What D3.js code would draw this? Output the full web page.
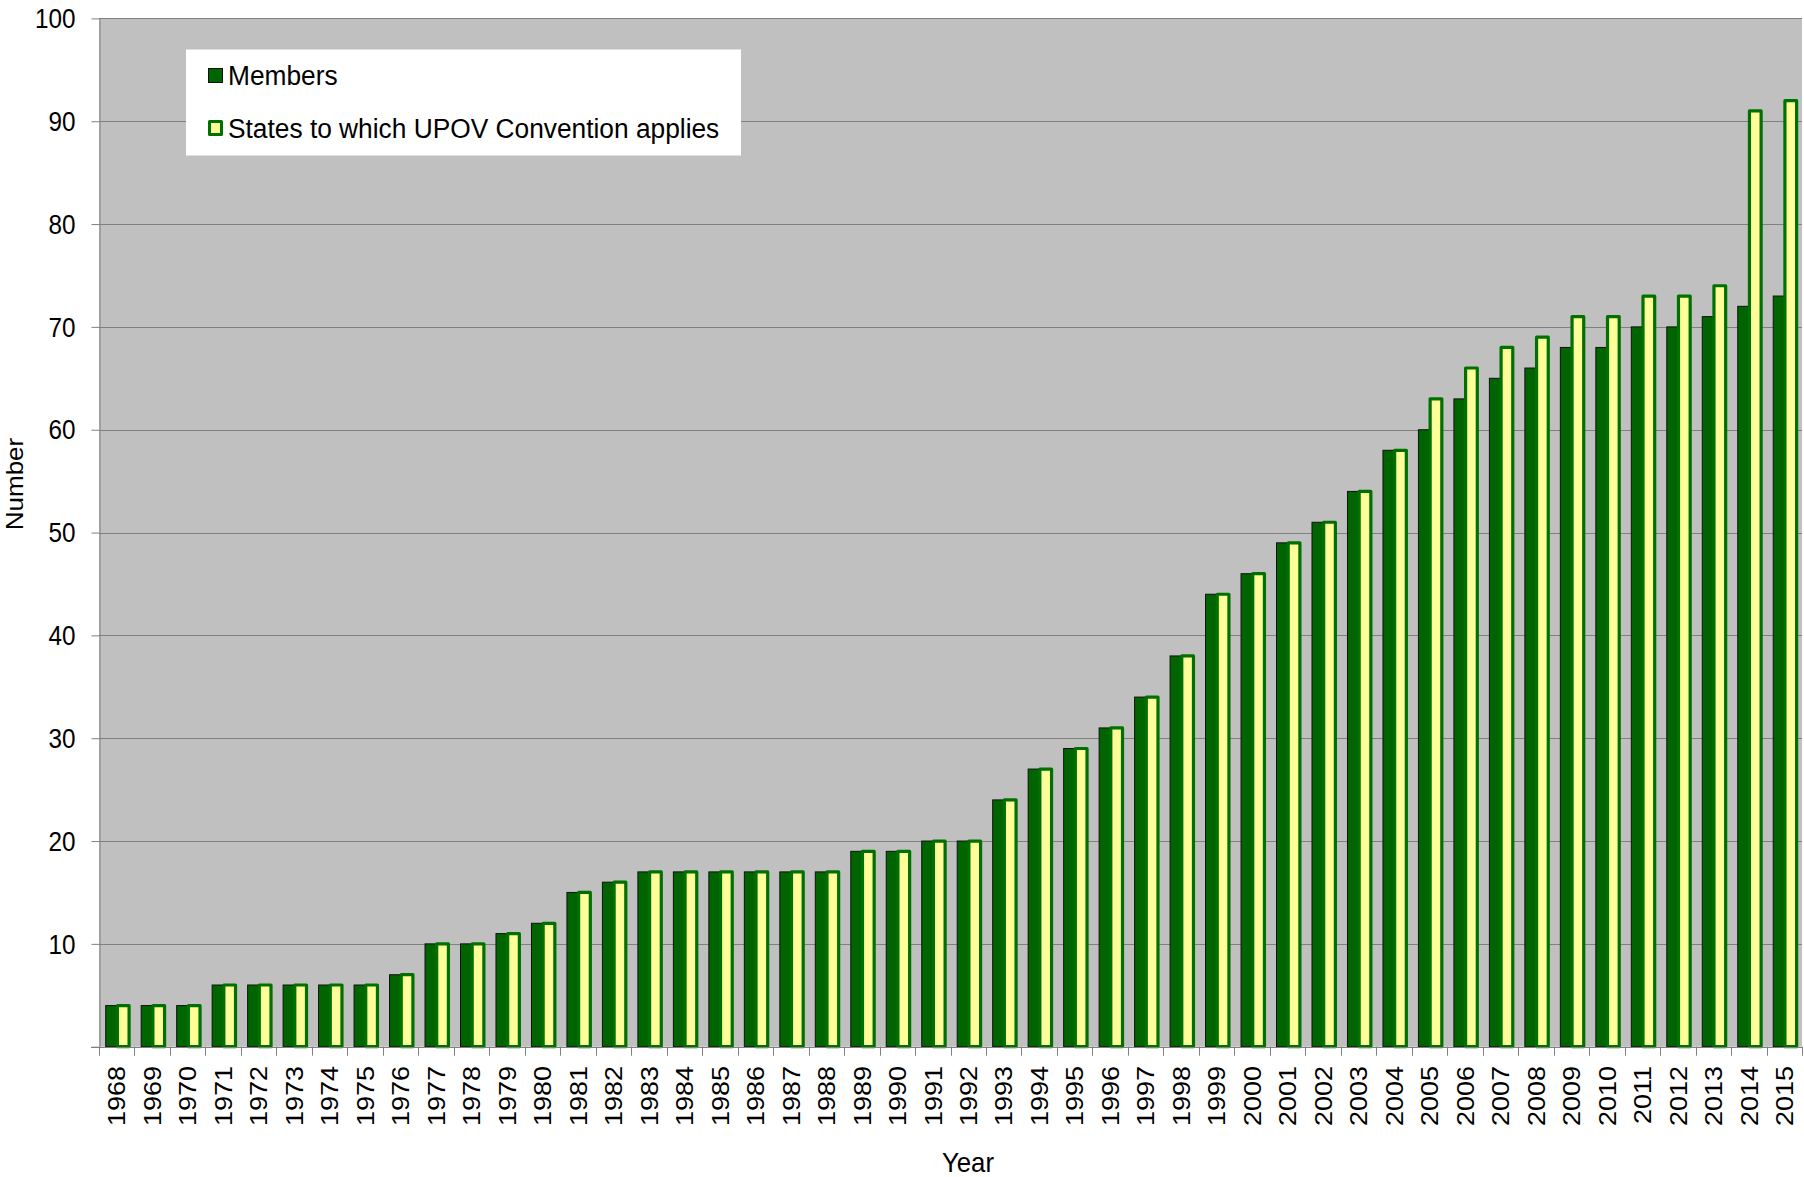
<!DOCTYPE html>
<html>
<head>
<meta charset="utf-8">
<script src="https://cdn.jsdelivr.net/npm/d3@7/dist/d3.min.js"></script>
<style>
  html, body { margin: 0; padding: 0; background: #fff; }
  svg { display: block; }
  text { font-family: "Liberation Sans", Arial, sans-serif; fill: #000; }
</style>
</head>
<body>
<svg id="chart" width="1804" height="1177"></svg>
<script>
// ---- Data ----
const years = [1968,1969,1970,1971,1972,1973,1974,1975,1976,1977,1978,1979,1980,1981,1982,1983,1984,1985,1986,1987,1988,1989,1990,1991,1992,1993,1994,1995,1996,1997,1998,1999,2000,2001,2002,2003,2004,2005,2006,2007,2008,2009,2010,2011,2012,2013,2014,2015];
const members = [4,4,4,6,6,6,6,6,7,10,10,11,12,15,16,17,17,17,17,17,17,19,19,20,20,24,27,29,31,34,38,44,46,49,51,54,58,60,63,65,66,68,68,70,70,71,72,73];
const statesApplied = [4,4,4,6,6,6,6,6,7,10,10,11,12,15,16,17,17,17,17,17,17,19,19,20,20,24,27,29,31,34,38,44,46,49,51,54,58,63,66,68,69,71,71,73,73,74,91,92];
const yTicks = [0,10,20,30,40,50,60,70,80,90,100];
const seriesNames = ["Members", "States to which UPOV Convention applies"];
const axisTitles = { x: "Year", y: "Number" };

// ---- Layout ----
const svg = d3.select("#chart");
const pLeft = 99, pRight = 1802, pTop = 18.4, pBottom = 1046.7;
const GREEN = "#006400", GREEN_STROKE = "#007000", YELLOW = "#ffff99", GRID = "#808080";

const x = d3.scaleBand().domain(years).range([pLeft, pRight]).padding(0);
const bw = x.bandwidth();
const xi = d3.scaleBand().domain(["m", "s"]).range([bw * 0.189, bw * 0.848]).padding(0);
const y = d3.scaleLinear().domain([0, 100]).range([pBottom, pTop]);

// Plot background
svg.append("rect").attr("x", pLeft).attr("y", pTop)
  .attr("width", pRight - pLeft).attr("height", pBottom - pTop).attr("fill", "#c0c0c0");

// Gridlines
svg.append("g").selectAll("line").data(yTicks.filter(d => d > 0)).join("line")
  .attr("x1", pLeft).attr("x2", pRight)
  .attr("y1", d => Math.round(y(d)) + 0.5).attr("y2", d => Math.round(y(d)) + 0.5)
  .attr("stroke", GRID).attr("stroke-width", 1);

// Bars
const rows = years.map((yr, i) => ({ year: yr, m: members[i], s: statesApplied[i] }));
svg.append("g").selectAll("rect").data(rows).join("rect")
  .attr("x", d => x(d.year) + xi("m"))
  .attr("width", xi.bandwidth())
  .attr("y", d => y(d.m))
  .attr("height", d => y(0) - y(d.m))
  .attr("fill", GREEN).attr("stroke", "#111").attr("stroke-width", 1);

svg.append("g").selectAll("rect").data(rows).join("rect")
  .attr("x", d => x(d.year) + xi("s"))
  .attr("width", xi.bandwidth())
  .attr("y", d => y(d.s))
  .attr("height", d => y(0) - y(d.s))
  .attr("fill", YELLOW).attr("stroke", GREEN_STROKE).attr("stroke-width", 3.2)
  .attr("stroke-linejoin", "round");

// Y axis
const yAxis = d3.axisLeft(y).tickValues(yTicks).tickSize(8).tickSizeOuter(0)
  .tickFormat(d => d === 0 ? "" : d);
const yg = svg.append("g").attr("transform", `translate(${pLeft + 0.5},0)`).call(yAxis);
yg.select(".domain").attr("stroke", GRID);
yg.selectAll(".tick line").attr("stroke", GRID);
yg.selectAll(".tick text")
  .attr("x", 0).attr("dy", "0.34em")
  .attr("transform", "translate(-24,0) scale(0.9,1)")
  .style("font-size", "27px").style("font-family", "'Liberation Sans', Arial, sans-serif")
  .attr("fill", "#000");

// X axis: baseline, boundary ticks, labels
const xg = svg.append("g");
xg.append("line").attr("x1", pLeft - 8).attr("x2", pRight)
  .attr("y1", Math.round(pBottom) + 0.5).attr("y2", Math.round(pBottom) + 0.5)
  .attr("stroke", GRID);
const bounds = years.map(d => x(d)).concat([pRight]);
xg.selectAll("line.tk").data(bounds).join("line").attr("class", "tk")
  .attr("x1", d => Math.round(d) + 0.5).attr("x2", d => Math.round(d) + 0.5)
  .attr("y1", pBottom).attr("y2", pBottom + 9).attr("stroke", GRID);
xg.selectAll("text").data(years).join("text")
  .attr("transform", d => `translate(${x(d) + bw / 2},1066) scale(0.9,1) rotate(-90)`)
  .attr("text-anchor", "end").attr("dy", "0.36em")
  .style("font-size", "27px")
  .text(d => d);

// Axis titles
svg.append("text")
  .attr("transform", "translate(968,1172) scale(0.92,1)")
  .attr("text-anchor", "middle").style("font-size", "28px").text(axisTitles.x);
svg.append("text")
  .attr("transform", "translate(22.5,484) scale(0.9,1) rotate(-90)")
  .attr("text-anchor", "middle").style("font-size", "26px").text(axisTitles.y);

// Legend
const lg = svg.append("g");
lg.append("rect").attr("x", 186).attr("y", 49.5).attr("width", 555).attr("height", 106).attr("fill", "#fff");
lg.append("rect").attr("x", 208.5).attr("y", 68.5).attr("width", 14).attr("height", 14)
  .attr("fill", GREEN).attr("stroke", "#111").attr("stroke-width", 1);
lg.append("rect").attr("x", 209.5).attr("y", 121.5).attr("width", 12).attr("height", 13)
  .attr("fill", YELLOW).attr("stroke", GREEN_STROKE).attr("stroke-width", 3).attr("stroke-linejoin", "round");
lg.append("text").attr("transform", "translate(228,85) scale(0.94,1)")
  .style("font-size", "28px").text(seriesNames[0]);
lg.append("text").attr("transform", "translate(228,137.5) scale(0.94,1)")
  .style("font-size", "28px").text(seriesNames[1]);
</script>
</body>
</html>
